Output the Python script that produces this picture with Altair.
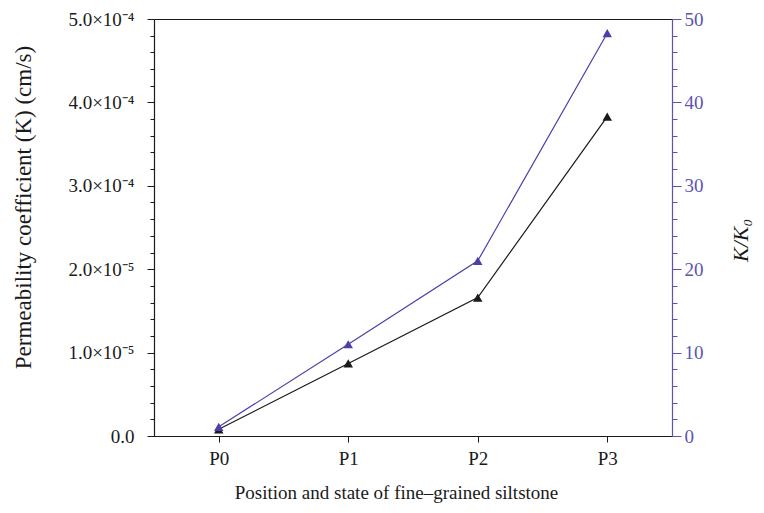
import altair as alt
import pandas as pd

positions = ["P0", "P1", "P2", "P3"]
k_values = [0.08, 0.87, 1.66, 3.83]          # left axis units (as labelled)
k_ratio = [1.1, 11.0, 21.0, 48.3]            # K/K0
left_tick_labels = ["0.0", "1.0×10⁻⁵", "2.0×10⁻⁵", "3.0×10⁻⁴", "4.0×10⁻⁴", "5.0×10⁻⁴"]
right_ticks = [0, 10, 20, 30, 40, 50]

df = pd.DataFrame({"pos": positions, "k": k_values, "ratio": k_ratio})

FONT = "Liberation Serif"
BLACK = "#1a1a1a"
PURPLE = "#4b40a8"
PURPLE_AX = "#5d53b3"

left_minor = [round(i * 0.2, 1) for i in range(26)]
right_minor = [i * 2 for i in range(26)]
arr = "[" + ",".join("'" + s + "'" for s in left_tick_labels) + "]"
left_expr = f"abs(datum.value - round(datum.value)) < 0.001 ? {arr}[round(datum.value)] : ''"
rarr = "[" + ",".join(str(v) for v in right_ticks) + "]"
right_expr = f"indexof({rarr}, datum.value) >= 0 ? format(datum.value, 'd') : ''"

x_enc = alt.X("pos:N", sort=positions,
              scale=alt.Scale(type="point", padding=0.5),
              axis=alt.Axis(title="Position and state of fine–grained siltstone",
                            labelAngle=0, tickSize=6, labelPadding=7, titlePadding=15,
                            titleX=242, titleAlign="center",
                            domainColor=BLACK, tickColor=BLACK, labelColor=BLACK,
                            titleColor=BLACK, titleFontWeight="normal"))

base = alt.Chart(df)

black_line = base.mark_line(color=BLACK, strokeWidth=1.2).encode(
    x=x_enc,
    y=alt.Y("k:Q", scale=alt.Scale(domain=[0, 5], nice=False, zero=True),
            axis=alt.Axis(title="Permeability coefficient (K) (cm/s)", values=left_minor,
                          tickCount=100,
                          labelExpr=left_expr, labelOverlap=False,
                          tickSize={"condition": {"test": "abs(datum.value - round(datum.value)) < 0.001", "value": 7}, "value": 4},
                          labelPadding=13, titlePadding=32, grid=False, titleFontSize=23,
                          titleY=188, titleAlign="center",
                          domainColor=BLACK, tickColor=BLACK, labelColor=BLACK,
                          titleColor=BLACK, titleFontWeight="normal")),
)
black_pts = base.mark_point(shape="triangle-up", filled=True, size=90, color=BLACK, opacity=1).encode(
    x=alt.X("pos:N", sort=positions), y=alt.Y("k:Q"))

purple_line = base.mark_line(color=PURPLE, strokeWidth=1.2).encode(
    x=alt.X("pos:N", sort=positions),
    y=alt.Y("ratio:Q", scale=alt.Scale(domain=[0, 50], nice=False, zero=True),
            axis=alt.Axis(title="K/K₀", orient="right", values=right_minor,
                          tickCount=100,
                          labelExpr=right_expr, labelOverlap=False,
                          tickSize={"condition": {"test": "datum.value % 10 === 0", "value": 9}, "value": 5},
                          labelPadding=3, titlePadding=49, grid=False, titleAngle=270,
                          titleY=221, titleAlign="center",
                          titleFontStyle="italic", titleFontSize=22,
                          domainColor=PURPLE_AX, tickColor=PURPLE_AX, labelColor=PURPLE_AX,
                          titleColor=BLACK, titleFontWeight="normal")),
)
purple_pts = base.mark_point(shape="triangle-up", filled=True, size=90, color=PURPLE, opacity=1).encode(
    x=alt.X("pos:N", sort=positions), y=alt.Y("ratio:Q"))

left = alt.layer(black_line, black_pts)
right = alt.layer(purple_line, purple_pts)

chart = alt.layer(left, right).resolve_scale(y="independent").properties(
    width=518, height=417,
    autosize=alt.AutoSizeParams(type="none"),
    padding={"left": 146, "top": 11, "right": 84, "bottom": 69},
).configure_view(stroke=BLACK, strokeWidth=1).configure_axis(
    labelFont=FONT, titleFont=FONT, labelFontSize=19, titleFontSize=19, domainWidth=1.2
)

chart.save("out.html", embed_options={"renderer": "svg", "actions": False})
